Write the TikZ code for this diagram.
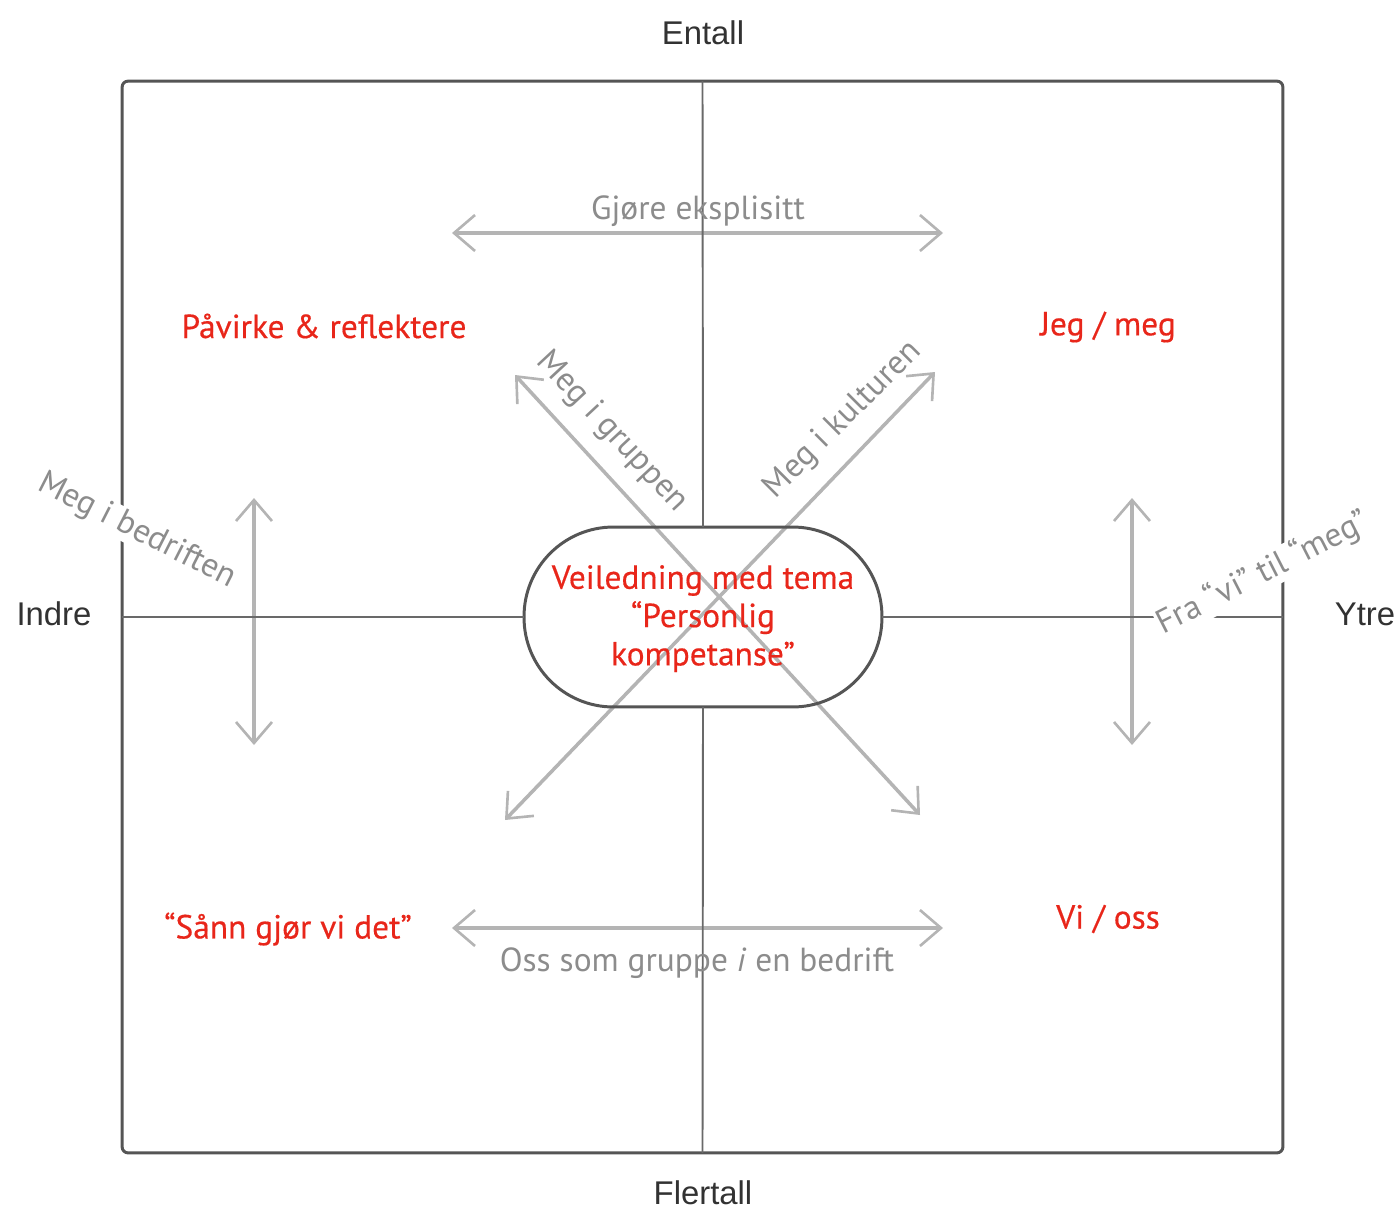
\documentclass[tikz,border=0pt]{standalone}
\usepackage{fontspec}
\setmainfont{PT Sans}
\newfontfamily\polfont{Liberation Sans}
\newfontfamily\temafont[FakeBold=0.4]{PT Sans}
\usetikzlibrary{arrows.meta}

\begin{document}
\begin{tikzpicture}[x=0.02cm,y=-0.02cm,
    ramme/.style={draw=mgray,line width=1.7pt,outer sep=0pt,rounded corners=0.12cm},
    akse/.style={draw=agray,line width=1.1pt},
    pil/.style={draw=lgray,line width=2pt,
      {Straight Barb[length=0.42cm,width=0.72cm,line width=1.5pt]}-{Straight Barb[length=0.42cm,width=0.72cm,line width=1.5pt]}},
    tema/.style={text=mred,font=\temafont\fontsize{19}{21.8}\selectfont,align=center},
    hint/.style={text=tgray,font=\fontsize{19}{22}\selectfont,inner sep=0.5pt},
    pol/.style={text=dgray,font=\polfont\fontsize{18.7}{22}\selectfont}]

\definecolor{mgray}{RGB}{85,85,85}
\definecolor{agray}{RGB}{105,105,105}
\definecolor{lgray}{RGB}{180,180,180}
\definecolor{tgray}{RGB}{140,140,140}
\definecolor{dgray}{RGB}{50,50,50}
\definecolor{mred}{RGB}{232,38,26}

\useasboundingbox (0,0) rectangle (1400,1207);

% ends of the sketched arrows
\coordinate (ek-w) at (452,233);
\coordinate (ek-e) at (943,233);
\coordinate (gr-w) at (452,928);
\coordinate (gr-e) at (943,928);
\coordinate (bd-n) at (254,498);
\coordinate (bd-s) at (254,745);
\coordinate (vm-n) at (1132,498);
\coordinate (vm-s) at (1132,745);
\coordinate (gp-nw) at (515,375);
\coordinate (gp-se) at (920,815);
\coordinate (ku-ne) at (935,372);
\coordinate (ku-sw) at (505,820);

\draw[pil] (ek-w) -- (ek-e);
\draw[pil] (gr-w) -- (gr-e);
\draw[pil] (bd-n) -- (bd-s);
\draw[pil] (vm-n) -- (vm-s);
\draw[pil] (gp-nw) -- (gp-se);
\draw[pil] (ku-sw) -- (ku-ne);

\node[ramme, minimum width=23.22cm, minimum height=21.44cm] (felt) at (702.5,617) {};
\node[tema, draw=mgray, line width=1.7pt, outer sep=0pt, rounded corners=1.79cm, minimum width=7.16cm, minimum height=3.6cm] (hub) at (703,617) {\strut Veiledning med tema\\“Personlig\\kompetanse”};

\draw[akse] (felt.north) -- (hub.north);
\draw[akse] (hub.south) -- (felt.south);
\draw[akse] (felt.west) -- (hub.west);
\draw[akse] (hub.east) -- (felt.east);

\node[pol] (entall) at (703,33) {Entall};
\node[pol] (flertall) at (703,1193) {Flertall};
\node[pol] (indre) at (54,614) {Indre};
\node[pol] (ytre) at (1365,614) {Ytre};

\node[tema] (pavirke) at (324,326) {Påvirke \& reflektere};
\node[tema] (jegmeg) at (1108,327) {Jeg / meg};
\node[tema] (sann) at (288,929) {“Sånn gjør vi det”};
\node[tema] (vioss) at (1108,919) {Vi / oss};

\node[hint] (eksplisitt) at (698,211) {Gjøre eksplisitt};
\node[hint] (gruppe) at (697,963) {Oss som gruppe \textit{i} en bedrift};
\node[hint,fill=white,rotate=-27] (bedriften) at (137,531) {Meg i bedriften};
\node[hint,fill=white,rotate=27] (vitilmeg) at (1263,573) {Fra “vi” til “meg”};
\node[hint,rotate=-47] (igruppen) at (612,432) {Meg i gruppen};
\node[hint,rotate=45] (ikulturen) at (843,420) {Meg i kulturen};

\end{tikzpicture}
\end{document}
